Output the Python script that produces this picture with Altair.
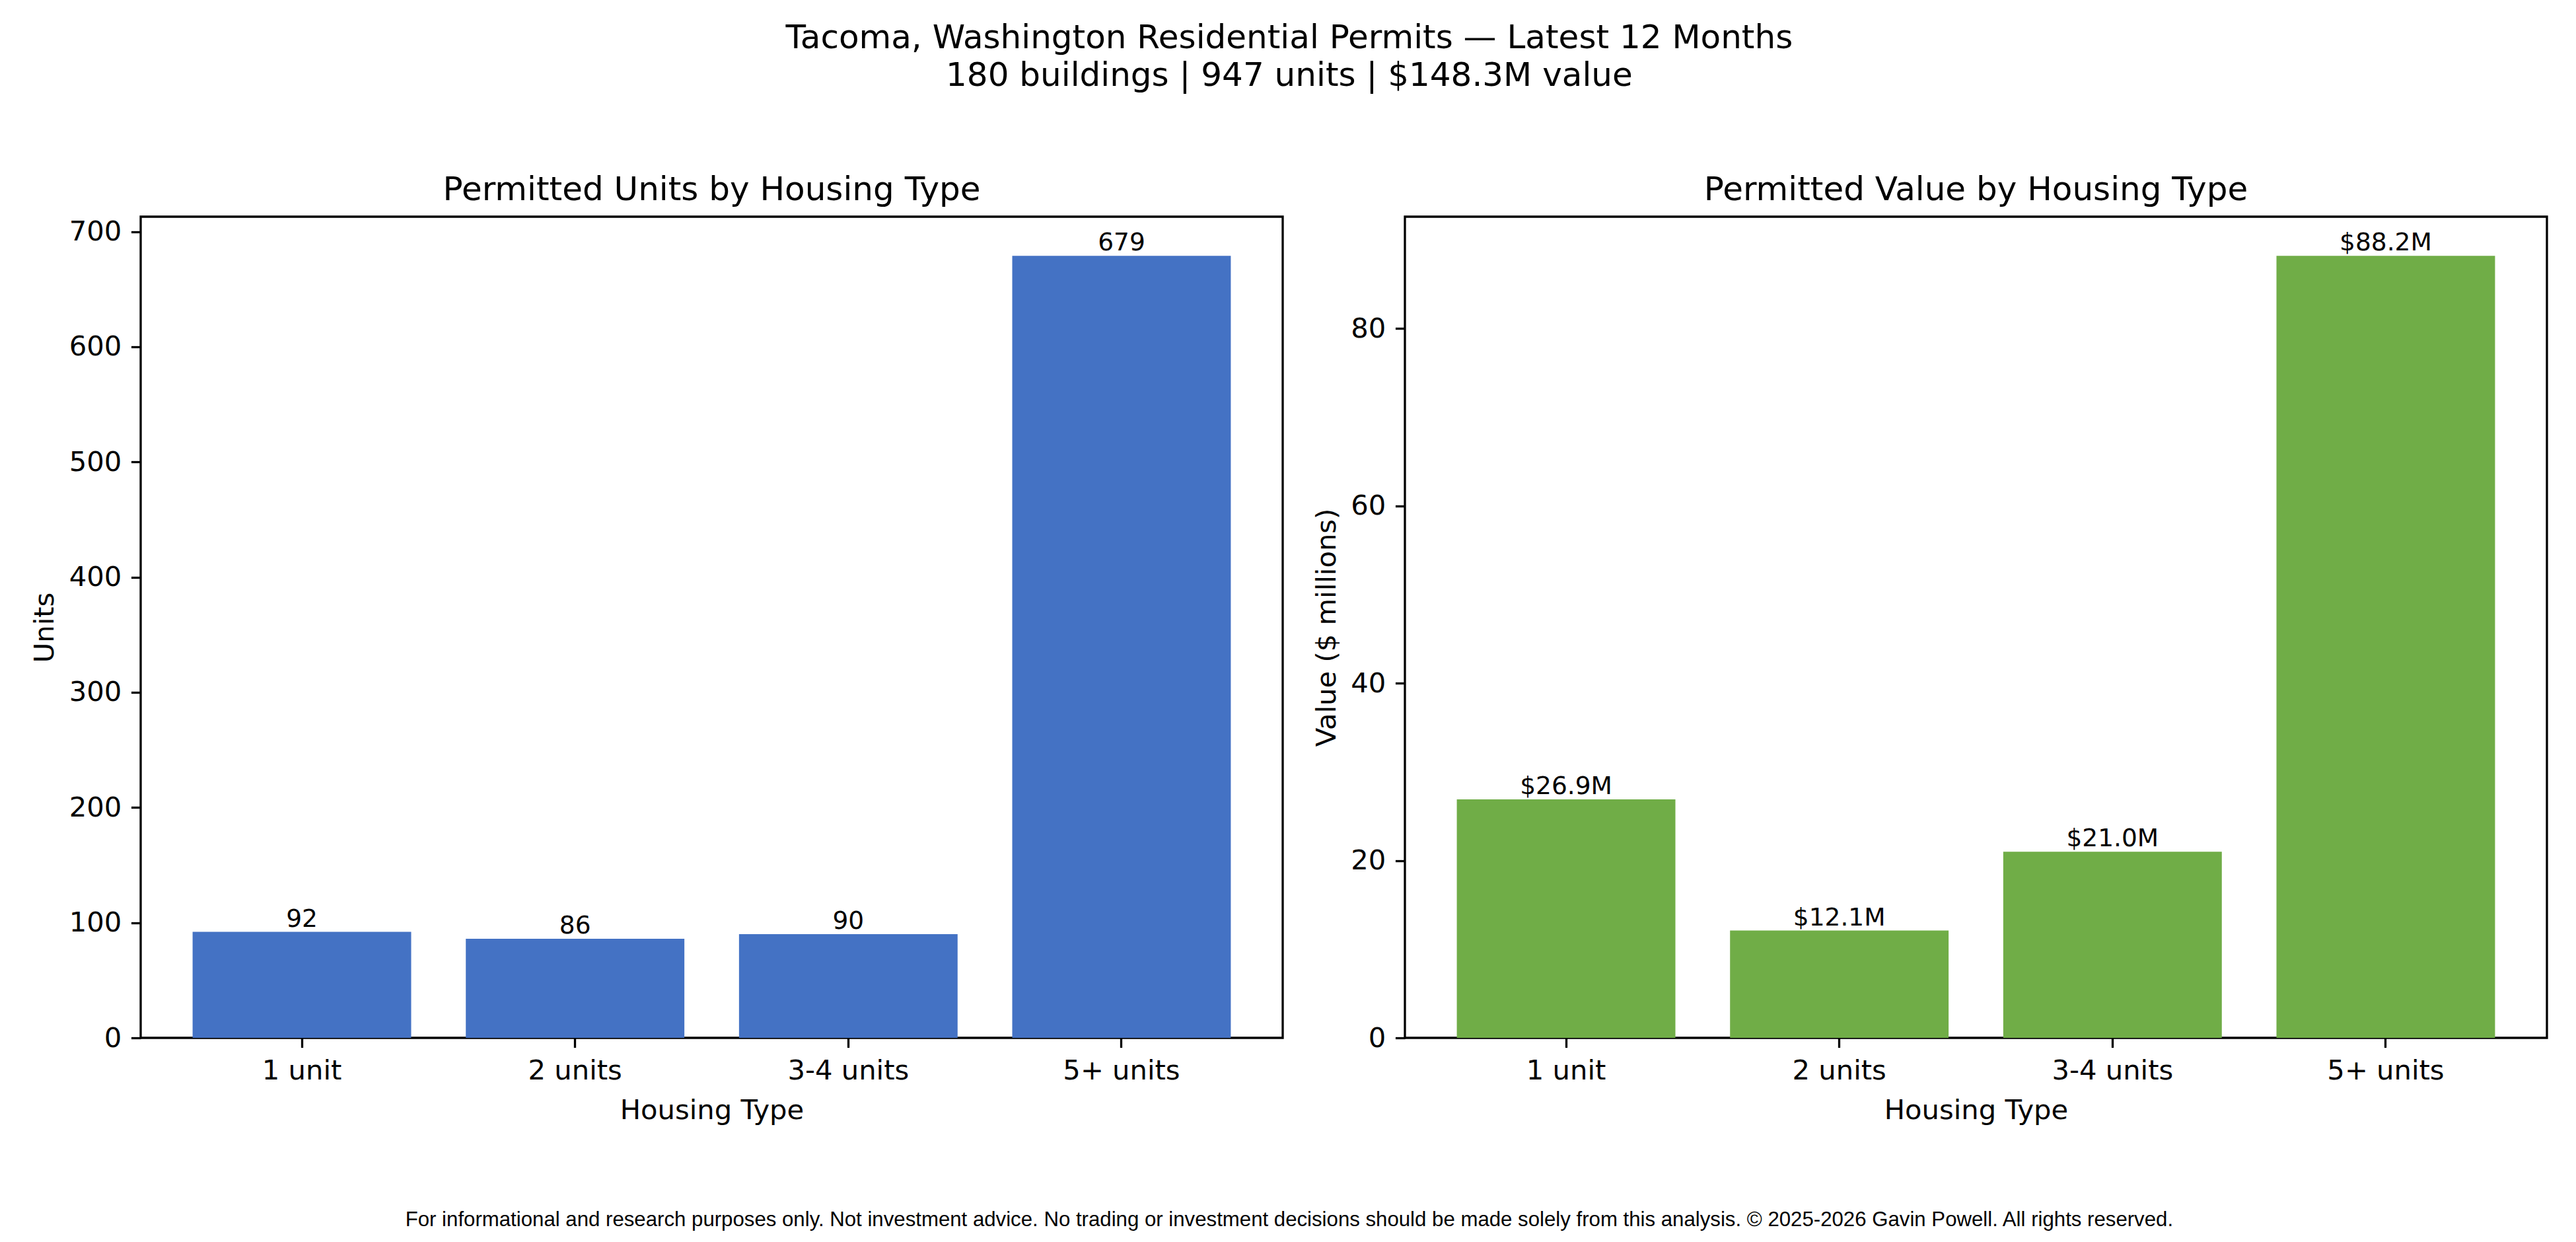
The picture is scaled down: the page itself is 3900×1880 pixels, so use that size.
import altair as alt
import pandas as pd

types = ["1 unit", "2 units", "3-4 units", "5+ units"]
units = [92, 86, 90, 679]
values_m = [26.9, 12.1, 21.0, 88.2]

title_lines = ["Tacoma, Washington Residential Permits \u2014 Latest 12 Months",
               "180 buildings | 947 units | $148.3M value"]
footer = ("For informational and research purposes only. Not investment advice. "
          "No trading or investment decisions should be made solely from this analysis. "
          "\u00a9 2025-2026 Gavin Powell. All rights reserved.")

df = pd.DataFrame({
    "type": types,
    "units": units,
    "value": values_m,
    "units_label": [str(u) for u in units],
    "value_label": [f"${v:.1f}M" for v in values_m],
})

W = 1729
H = 1243
FONT = "DejaVu Sans"

xenc = alt.X("type:N", sort=types, title="Housing Type",
             scale=alt.Scale(paddingInner=0.2, paddingOuter=0.19),
             axis=alt.Axis(labelAngle=0, titlePadding=19, labelLimit=1000))

def panel(field, label_field, color, ymax, ticks, ytitle, ttl):
    base = alt.Chart(df).encode(x=xenc)
    y = alt.Y(f"{field}:Q", title=ytitle,
              scale=alt.Scale(domain=[0, ymax], nice=False, zero=True),
              axis=alt.Axis(values=ticks, titlePadding=14.5))
    bars = base.mark_bar(color=color).encode(y=y)
    labels = base.mark_text(baseline="bottom", fontSize=37.5, font=FONT,
                            color="black").encode(y=alt.Y(f"{field}:Q"),
                                                  text=f"{label_field}:N")
    return alt.layer(bars, labels).properties(
        width=W, height=H,
        title=alt.TitleParams(ttl, fontSize=50, font=FONT, fontWeight="normal",
                              color="black", offset=15, anchor="middle"))

left = panel("units", "units_label", "#4472C4", 679 * 1.05,
             [0, 100, 200, 300, 400, 500, 600, 700], "Units",
             "Permitted Units by Housing Type")
right = panel("value", "value_label", "#70AD47", 88.2 * 1.05,
              [0, 20, 40, 60, 80], "Value ($ millions)",
              "Permitted Value by Housing Type")

inner = alt.hconcat(left, right, spacing=185, bounds="flush",
                    title=alt.TitleParams(footer, orient="bottom", fontSize=31.2,
                                          font="Liberation Sans", fontWeight="normal",
                                          color="black", offset=127, anchor="middle"))

chart = alt.vconcat(inner,
                    title=alt.TitleParams(title_lines, fontSize=50, font=FONT,
                                          fontWeight="normal", color="black",
                                          lineHeight=57, offset=121, anchor="middle")
                    ).properties(
    background="white",
    padding={"left": 38, "top": 25, "right": 30, "bottom": 5}
).configure_view(stroke="black", strokeWidth=3.3
).configure_axis(
    domain=False, grid=False, ticks=True, tickColor="black", tickWidth=3.3,
    tickSize=14.6, labelPadding=14.6, labelFont=FONT, labelFontSize=41.7,
    labelColor="black", titleFont=FONT, titleFontSize=41.7,
    titleFontWeight="normal", titleColor="black", labelLimit=1000
)

chart.save("out.html", embed_options={"renderer": "svg", "actions": False})
